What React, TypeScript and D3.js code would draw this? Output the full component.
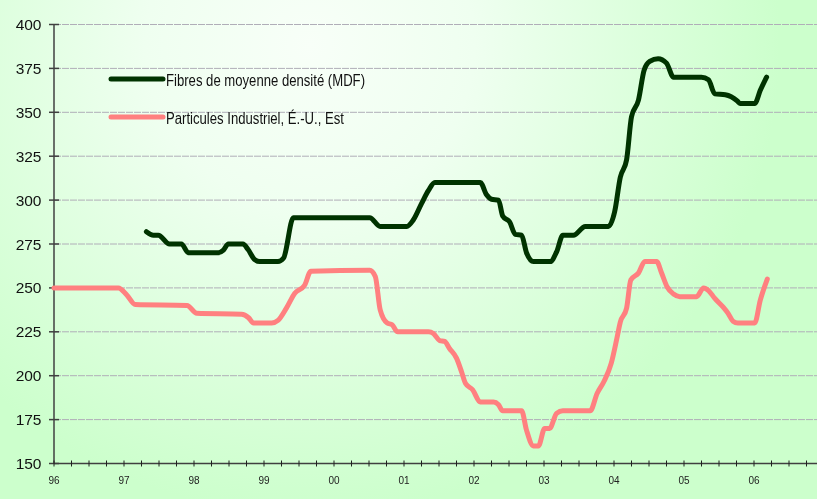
import React from "react";
import * as d3 from "d3";

const W = 817;
const H = 499;

const yTicks = [150, 175, 200, 225, 250, 275, 300, 325, 350, 375, 400];
const yearLabels = ["96", "97", "98", "99", "00", "01", "02", "03", "04", "05", "06"];

const seriesNames = ["Fibres de moyenne densité (MDF)", "Particules Industriel, É.-U., Est"];

// MDF (decimal year, value)
const mdfDates = [
  1997.32, 1997.42, 1997.49, 1997.65, 1997.82, 1997.92, 1998.35, 1998.42, 1998.49, 1998.70,
  1998.77, 1998.87, 1998.94, 1999.2, 1999.28, 1999.42, 2000.51, 2000.66, 2000.99, 2001.04,
  2001.13, 2001.25, 2001.35, 2001.44, 2002.09, 2002.18, 2002.25, 2002.35, 2002.41, 2002.51,
  2002.59, 2002.68, 2002.75, 2002.85, 2003.09, 2003.18, 2003.27, 2003.42, 2003.59, 2003.92,
  2004.01, 2004.09, 2004.18, 2004.25, 2004.35, 2004.43, 2004.51, 2004.63, 2004.75, 2004.85,
  2005.25, 2005.35, 2005.44, 2005.59, 2005.76, 2005.8, 2006.01, 2006.09, 2006.18,
];
const mdfValues = [
  282, 280, 280, 275, 275, 270, 270, 271.5, 275, 275,
  272, 266, 265, 265, 267, 290, 290, 285, 285, 285,
  288.5, 298, 305.5, 310, 310, 303, 300.5, 300, 291, 287.5,
  280.5, 280, 270, 265, 265, 270.5, 280, 280, 285, 285,
  293.5, 313, 323, 347.5, 357, 374, 379, 380.5, 378, 370,
  370, 368.5, 360.5, 360, 356.5, 355, 355, 362.5, 370,
];

// Particules (decimal year, value)
const partDates = [
  1996.0, 1996.92, 1997.04, 1997.16, 1997.9, 1998.04, 1998.68, 1998.78, 1998.85, 1999.11,
  1999.2, 1999.32, 1999.44, 1999.58, 1999.67, 2000.51, 2000.59, 2000.66, 2000.76, 2000.83,
  2000.91, 2001.35, 2001.42, 2001.51, 2001.58, 2001.65, 2001.75, 2001.82, 2001.88, 2001.98,
  2002.09, 2002.28, 2002.35, 2002.41, 2002.68, 2002.75, 2002.85, 2002.92, 2003.01, 2003.08,
  2003.18, 2003.27, 2003.66, 2003.76, 2003.86, 2003.96, 2004.04, 2004.09, 2004.18, 2004.24,
  2004.35, 2004.44, 2004.61, 2004.68, 2004.76, 2004.85, 2004.94, 2005.18, 2005.28, 2005.35,
  2005.44, 2005.56, 2005.63, 2005.7, 2005.77, 2006.01, 2006.09, 2006.19,
];
const partValues = [
  250, 250, 246, 240.5, 240, 235.5, 235, 233, 230, 230,
  231.5, 238.5, 247, 251.5, 259.5, 260, 256.5, 237.5, 230, 229,
  225, 225, 224, 220, 219.5, 215.5, 210, 202.5, 195.5, 192,
  185, 185, 183.5, 180, 180, 169, 160, 160, 170, 170,
  178.5, 180, 180, 190, 197, 207, 221, 230.5, 238.5, 254.5,
  258.5, 265, 265, 258.5, 250.5, 246.5, 245, 245, 250, 248.5,
  244, 239, 235.5, 231, 230, 230, 243, 255,
];

const COLORS = ["#003300", "#ff8080"];

export default function App() {
  const x = d3.scaleLinear().domain([1996, 2006.75]).range([54, 806.5]);
  const y = d3.scaleLinear().domain([150, 400]).range([463.5, 24.5]);

  const line = d3
    .line<[number, number]>()
    .x((d) => x(d[0]))
    .y((d) => y(d[1]))
    .curve(d3.curveMonotoneX);

  const mdf = mdfDates.map((t, i) => [t, mdfValues[i]] as [number, number]);
  const part = partDates.map((t, i) => [t, partValues[i]] as [number, number]);

  const quarterTicks = d3.range(0, 44).map((q) => 1996 + q / 4);

  const x0 = x(1996);
  const y0 = y(150);

  return (
    <div style={{ position: "fixed", left: 0, top: 0, width: W, height: H }}>
      <svg width={W} height={H} style={{ display: "block", fontFamily: "'Liberation Sans', Arial, sans-serif" }}>
        <defs>
          <radialGradient id="bg" gradientUnits="userSpaceOnUse" cx={310} cy={45} r={470}>
            <stop offset="0" stopColor="#f8fff8" />
            <stop offset="0.35" stopColor="#effff0" />
            <stop offset="1" stopColor="#ccffcc" />
          </radialGradient>
        </defs>
        <rect x={0} y={0} width={W} height={H} fill="url(#bg)" />

        {/* gridlines */}
        {yTicks.filter((v) => v !== 150).map((v) => (
          <line
            key={"g" + v}
            x1={x0}
            x2={W}
            y1={y(v)}
            y2={y(v)}
            stroke="#b0aeb8"
            strokeWidth={1}
            strokeDasharray="7,1"
          />
        ))}

        {/* y axis */}
        <line x1={x0} x2={x0} y1={y(400)} y2={y0} stroke="#404040" strokeWidth={1.5} />
        {yTicks.map((v) => (
          <g key={"yt" + v}>
            <line x1={x0 - 5} x2={x0 + 5} y1={y(v)} y2={y(v)} stroke="#404040" strokeWidth={1.5} />
            <text x={41.5} y={y(v) + 5.5} textAnchor="end" fontSize={15.5} fill="#111">
              {v}
            </text>
          </g>
        ))}

        {/* x axis */}
        <line x1={x0} x2={W} y1={y0} y2={y0} stroke="#404040" strokeWidth={1.5} />
        {quarterTicks.map((t) => (
          <line key={"xt" + t} x1={x(t)} x2={x(t)} y1={y0 - 3} y2={y0 + 3} stroke="#202020" strokeWidth={1} />
        ))}
        {yearLabels.map((lab, i) => (
          <text key={"xl" + lab} x={x(1996 + i)} y={483.5} textAnchor="middle" fontSize={10} fill="#222">
            {lab}
          </text>
        ))}

        {/* series */}
        <path d={line(part) || ""} fill="none" stroke={COLORS[1]} strokeWidth={5} strokeLinejoin="round" strokeLinecap="round" />
        <path d={line(mdf) || ""} fill="none" stroke={COLORS[0]} strokeWidth={5} strokeLinejoin="round" strokeLinecap="round" />

        {/* legend */}
        {seriesNames.map((name, i) => {
          const ly = i === 0 ? 79 : 117;
          return (
            <g key={"lg" + i}>
              <line x1={111} x2={163} y1={ly} y2={ly} stroke={COLORS[i]} strokeWidth={5} strokeLinecap="round" />
              <text
                x={166}
                y={ly + 6.5}
                fontSize={16}
                fill="#111"
                textLength={i === 0 ? 199 : 178}
                lengthAdjust="spacingAndGlyphs"
              >
                {name}
              </text>
            </g>
          );
        })}
      </svg>
    </div>
  );
}
